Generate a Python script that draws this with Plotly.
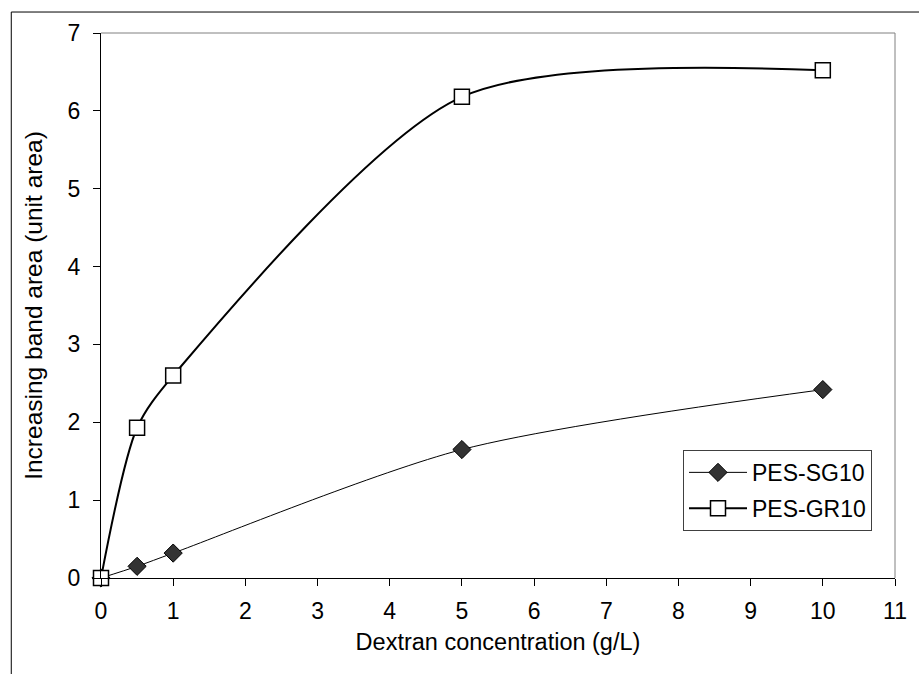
import plotly.graph_objects as go

# Data
x_conc = [0, 0.5, 1, 5, 10]
sg10 = [0, 0.15, 0.32, 1.65, 2.42]
gr10 = [0, 1.93, 2.60, 6.18, 6.52]
x_ticks = list(range(0, 12))
y_ticks = list(range(0, 8))

FONT = "Liberation Sans, Arial, sans-serif"

fig = go.Figure()
fig.add_trace(go.Scatter(
    x=x_conc, y=sg10, name="PES-SG10", mode="lines+markers",
    line=dict(color="black", width=1, shape="spline", smoothing=0.8),
    marker=dict(symbol="diamond", size=14, color="#333333",
                line=dict(color="black", width=1)),
    cliponaxis=False, legendgroup="a",
))
fig.add_trace(go.Scatter(
    x=x_conc, y=gr10, name="PES-GR10", mode="lines+markers",
    line=dict(color="black", width=2, shape="spline", smoothing=0.8),
    marker=dict(symbol="square", size=15, color="white",
                line=dict(color="black", width=1.5)),
    cliponaxis=False, legendgroup="b",
))

fig.update_layout(
    width=919, height=674,
    margin=dict(l=101, r=13, t=33, b=96),
    paper_bgcolor="white", plot_bgcolor="white",
    font=dict(family=FONT, size=23, color="black"),
    showlegend=True,
    legend=dict(
        x=0.733, y=0.235, xanchor="left", yanchor="top",
        bgcolor="white", bordercolor="#404040", borderwidth=1,
        font=dict(size=23), tracegroupgap=3, traceorder="grouped",
        itemwidth=58,
    ),
    xaxis=dict(
        range=[0, 11], tickvals=x_ticks, ticks="outside", ticklen=7,
        tickcolor="black", showline=True, linecolor="black", linewidth=1,
        showgrid=False, zeroline=False, ticklabelstandoff=5,
        title=dict(text="Dextran concentration (g/L)", font=dict(size=23.5), standoff=10),
    ),
    yaxis=dict(
        range=[0, 7], tickvals=y_ticks, ticks="outside", ticklen=7,
        tickcolor="black", showline=True, linecolor="black", linewidth=1,
        showgrid=False, zeroline=False, ticklabelstandoff=8,
        title=dict(text="Increasing band area (unit area)", font=dict(size=24.5), standoff=18),
    ),
    shapes=[
        dict(type="line", xref="paper", yref="paper", x0=0, y0=1, x1=1, y1=1,
             line=dict(color="#808080", width=1)),
        dict(type="line", xref="paper", yref="paper", x0=1, y0=0, x1=1, y1=1,
             line=dict(color="#808080", width=1)),
        dict(type="rect", xref="paper", yref="paper", x0=-0.113, y0=-0.3,
             x1=1.2, y1=1.0385, line=dict(color="black", width=1),
             fillcolor="rgba(0,0,0,0)", layer="below"),
    ],
)

fig.write_html("out.html")
